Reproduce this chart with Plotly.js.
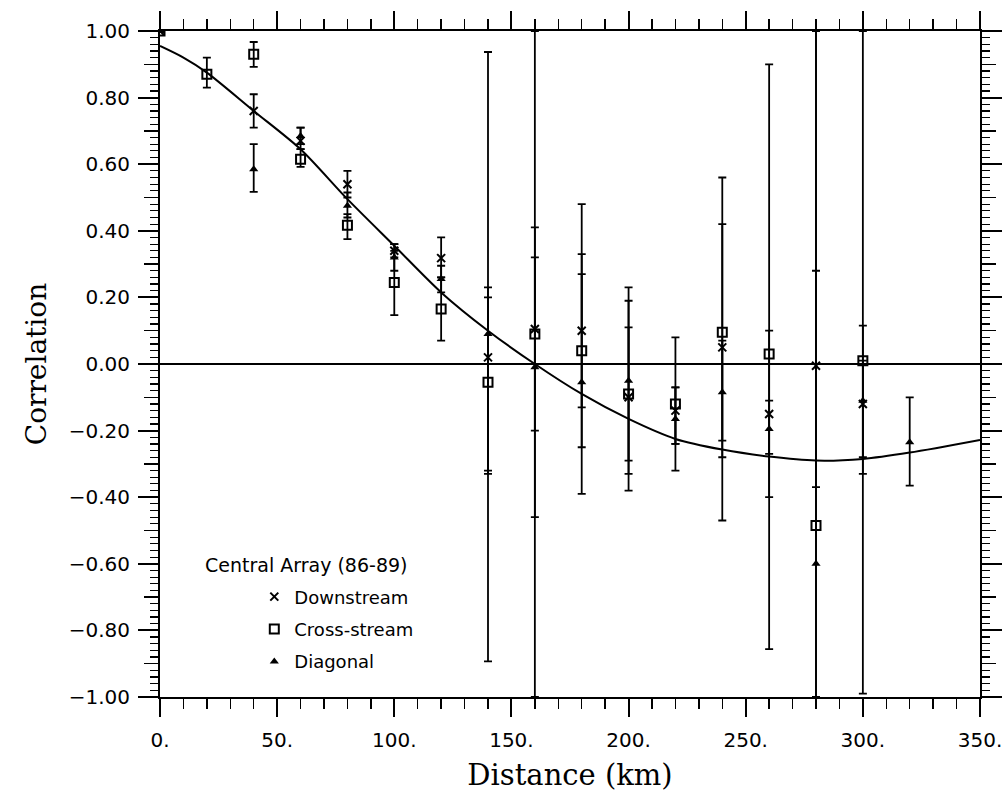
<!DOCTYPE html>
<html>
<head>
<meta charset="utf-8">
<script src="https://cdn.plot.ly/plotly-3.0.1.min.js"></script>
<style>
  html, body { margin: 0; padding: 0; background: #ffffff; }
  #chart { width: 1004px; height: 800px; }
</style>
</head>
<body>
<div id="chart"></div>
<script>
// ---- Data ----
const distances = [0, 20, 40, 60, 80, 100, 120, 140, 160, 180, 200, 220, 240, 260, 280, 300, 320];

// Downstream (x markers)
const downCorr  = [1.00, null, 0.76, 0.67, 0.54, 0.34, 0.318, 0.02, 0.105, 0.10, -0.10, -0.14, 0.05, -0.15, -0.005, -0.12, null];
const downUpper = [1.00, null, 0.81, 0.71, 0.58, 0.36, 0.38, 0.23, 0.41, 0.33, 0.11, -0.07, 0.42, 0.10, 0.28, 0.01, null];
const downLower = [1.00, null, 0.71, 0.645, 0.50, 0.32, 0.26, -0.32, -0.20, -0.13, -0.29, -0.24, -0.28, -0.40, -0.37, -0.28, null];

// Cross-stream (open squares)
const crossCorr  = [1.00, 0.87, 0.93, 0.615, 0.417, 0.245, 0.165, -0.055, 0.09, 0.04, -0.09, -0.12, 0.095, 0.03, -0.485, 0.01, null];
const crossUpper = [1.00, 0.92, 0.967, 0.645, 0.45, 0.34, 0.26, 0.937, 0.32, 0.48, 0.19, 0.08, 0.56, 0.90, 1.00, 1.00, null];
const crossLower = [1.00, 0.83, 0.892, 0.592, 0.375, 0.147, 0.07, -0.893, -0.46, -0.39, -0.38, -0.32, -0.47, -0.856, -1.00, -0.99, null];

// Diagonal (filled triangles)
const diagCorr  = [1.00, null, 0.585, 0.685, 0.475, 0.32, 0.255, 0.09, -0.01, -0.055, -0.05, -0.165, -0.085, -0.195, -0.60, -0.11, -0.235];
const diagUpper = [1.00, null, 0.66, 0.71, 0.515, 0.36, 0.295, 0.20, 1.00, 0.27, 0.23, -0.07, 0.07, -0.11, 1.00, 0.115, -0.10];
const diagLower = [1.00, null, 0.517, 0.66, 0.44, 0.28, 0.215, -0.33, -1.00, -0.25, -0.33, -0.24, -0.23, -0.27, -1.00, -0.33, -0.365];

// Fitted curve
const fitDist = [0, 10, 20, 40, 60, 80, 100, 120, 140, 160, 180, 200, 220, 240, 260, 280, 300, 320, 350];
const fitCorr = [0.955, 0.92, 0.875, 0.76, 0.645, 0.495, 0.355, 0.215, 0.10, 0.0, -0.09, -0.165, -0.225, -0.257, -0.278, -0.290, -0.285, -0.266, -0.228];

// Tick labels
const xTickVals = [0, 50, 100, 150, 200, 250, 300, 350];
const xTickText = ["0.", "50.", "100.", "150.", "200.", "250.", "300.", "350."];
const yMidVals  = [-1, -0.9, -0.8, -0.7, -0.6, -0.5, -0.4, -0.3, -0.2, -0.1, 0, 0.1, 0.2, 0.3, 0.4, 0.5, 0.6, 0.7, 0.8, 0.9, 1];
const yMidText  = ["\u22121.00", "", "\u22120.80", "", "\u22120.60", "", "\u22120.40", "", "\u22120.20", "", "0.00", "", "0.20", "", "0.40", "", "0.60", "", "0.80", "", "1.00"];
const yMajorVals = [-1, -0.8, -0.6, -0.4, -0.2, 0, 0.2, 0.4, 0.6, 0.8, 1];

const seriesNames = ["Downstream", "Cross-stream", "Diagonal"];
const legendTitle = "Central Array (86-89)";

// ---- Build traces ----
function errs(vals, up, lo) {
  return {
    plus: vals.map((v, i) => (v === null ? null : +(up[i] - v).toFixed(4))),
    minus: vals.map((v, i) => (v === null ? null : +(v - lo[i]).toFixed(4)))
  };
}
function seriesTrace(name, vals, up, lo, marker) {
  const e = errs(vals, up, lo);
  return {
    type: "scatter", mode: "markers", name: name, legendgroup: name,
    x: distances, y: vals,
    marker: marker,
    error_y: { type: "data", symmetric: false, array: e.plus, arrayminus: e.minus,
               color: "#000", thickness: 1.8, width: 4 },
    cliponaxis: true
  };
}

const traces = [
  { type: "scatter", mode: "lines", x: fitDist, y: fitCorr, yaxis: "y2",
    line: { color: "#000", width: 2, shape: "spline", smoothing: 0.8 }, showlegend: false, hoverinfo: "skip" },
  seriesTrace(seriesNames[0], downCorr, downUpper, downLower,
    { symbol: "x-thin-open", size: 8, color: "#000", line: { color: "#000", width: 2 } }),
  seriesTrace(seriesNames[1], crossCorr, crossUpper, crossLower,
    { symbol: "square-open", size: 9, color: "#000", line: { color: "#000", width: 2 } }),
  seriesTrace(seriesNames[2], diagCorr, diagUpper, diagLower,
    { symbol: "triangle-up", size: 8, color: "#000", line: { color: "#000", width: 0 } })
];

const tickFont = { family: "DejaVu Sans", size: 20, color: "#000" };

const layout = {
  width: 1004, height: 800,
  paper_bgcolor: "#ffffff", plot_bgcolor: "#ffffff",
  margin: { l: 160, r: 24, t: 31, b: 103, pad: 0 },
  showlegend: true,
  legend: {
    x: 0.115, xanchor: "left", y: 0.178, yanchor: "top",
    bgcolor: "rgba(0,0,0,0)", borderwidth: 0,
    font: { family: "DejaVu Sans", size: 18, color: "#000" },
    tracegroupgap: 6
  },
  xaxis: {
    range: [0, 350], showgrid: false, zeroline: false,
    showline: true, linecolor: "#000", linewidth: 2, mirror: "ticks",
    ticks: "outside", ticklen: 18, tickwidth: 2, tickcolor: "#000",
    tickvals: xTickVals, ticktext: xTickText, tickfont: tickFont,
    ticklabelstandoff: 6,
    minor: { dtick: 10, tick0: 0, ticks: "outside", ticklen: 10, tickwidth: 1.5, tickcolor: "#000", showgrid: false },
    title: { text: "Distance (km)", font: { family: "DejaVu Serif", size: 29, color: "#000" }, standoff: 14 }
  },
  yaxis: {
    range: [-1, 1], showgrid: false,
    zeroline: true, zerolinecolor: "#000", zerolinewidth: 1.5,
    showline: true, linecolor: "#000", linewidth: 2, mirror: "ticks",
    ticks: "outside", ticklen: 14, tickwidth: 1.5, tickcolor: "#000",
    tickvals: yMidVals, ticktext: yMidText, tickfont: tickFont,
    ticklabelstandoff: 10,
    minor: { dtick: 0.02, tick0: 0, ticks: "outside", ticklen: 8, tickwidth: 1.2, tickcolor: "#000", showgrid: false },
    title: { text: "Correlation", font: { family: "DejaVu Serif", size: 28, color: "#000" }, standoff: 14 }
  },
  yaxis2: {
    overlaying: "y", side: "left", range: [-1, 1],
    showgrid: false, zeroline: false,
    showline: true, linecolor: "#000", linewidth: 2, mirror: "ticks",
    ticks: "outside", ticklen: 20, tickwidth: 2, tickcolor: "#000",
    tickvals: yMajorVals, showticklabels: false
  },
  annotations: [
    { text: legendTitle, xref: "paper", yref: "paper", x: 0.052, y: 0.198,
      xanchor: "left", yanchor: "middle", showarrow: false,
      font: { family: "DejaVu Sans", size: 19, color: "#000" } }
  ]
};

Plotly.newPlot("chart", traces, layout, { displayModeBar: false, staticPlot: true });
</script>
</body>
</html>
